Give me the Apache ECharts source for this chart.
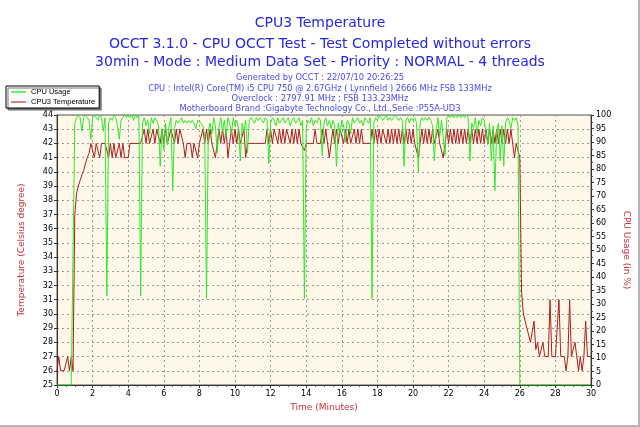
<!DOCTYPE html>
<html><head><meta charset="utf-8">
<script src="https://cdn.jsdelivr.net/npm/echarts@6/dist/echarts.min.js"></script>
<style>html,body{margin:0;padding:0;background:#fff}#c{width:640px;height:427px}</style>
</head><body><div id="c"></div>
<script>
// Sampling step of the log: one reading every 0.1 minute, from 0 to 30 minutes
const sampleStepMin = 0.1;

const titleLines = [
  'CPU3 Temperature',
  'OCCT 3.1.0 - CPU OCCT Test - Test Completed without errors',
  '30min - Mode : Medium Data Set - Priority : NORMAL - 4 threads'
];
const infoLines = [
  'Generated by OCCT : 22/07/10 20:26:25',
  'CPU : Intel(R) Core(TM) i5 CPU 750 @ 2.67GHz ( Lynnfield ) 2666 MHz FSB 133MHz',
  'Overclock : 2797.91 MHz ; FSB 133.23MHz',
  'Motherboard Brand :Gigabyte Technology Co., Ltd.,Serie :P55A-UD3'
];

// CPU usage (%) per sample
const cpuUsage = [
  0,0,0,0,0,0,0,0,0,0,
  97,99,100,99,94,99,100,99,98,91,
  99,100,99,98,100,99,94,99,33,97,
  99,98,100,99,96,91,98,99,100,99,
  100,99,100,98,100,99,100,33,97,99,
  96,98,93,99,97,99,98,96,81,95,
  87,97,89,96,99,72,95,98,97,98,
  99,97,98,97,98,97,98,97,95,98,
  98,97,96,92,32,94,97,93,99,96,
  86,96,99,94,98,92,99,97,93,99,
  96,98,95,83,97,94,98,86,98,99,
  98,97,99,98,99,98,97,99,98,82,
  97,99,98,96,99,97,98,99,97,98,
  99,96,98,99,97,98,99,96,98,32,
  95,98,97,99,96,98,97,99,98,85,
  97,99,96,98,95,98,96,81,97,93,
  98,96,90,98,97,93,99,97,98,99,
  97,98,96,99,98,97,99,32,97,99,
  98,100,99,98,99,100,98,99,98,99,
  100,99,98,99,98,81,98,99,97,99,
  98,99,97,79,97,99,98,99,98,99,
  98,96,83,94,99,92,98,98,85,99,
  100,99,100,99,100,99,100,99,100,99,
  100,99,83,97,95,99,93,98,96,99,
  98,94,89,97,83,96,72,94,97,83,
  96,81,97,99,98,95,99,98,99,96,
  0,0,0,0,0,0,0,0,0,0,
  0,0,0,0,0,0,0,0,0,0,
  0,0,0,0,0,0,0,0,0,0,
  0,0,0,0,0,0,0,0,0,0,
  0
];

// CPU3 temperature (Celsius) per sample
const cpuTemp = [
  26,27,26,26,26,26,27,26,27,26,
  37,38.5,39,39.4,39.8,40.1,40.6,41,41.3,42,
  42,41,42,42,41,42,42,42,42,41,
  42,41,42,41,41,42,41,42,41,41,
  41,42,42,42,42,42,42,42,42,43,
  42,43,42,42,43,42,43,43,42,43,
  42,43,42,42,43,43,42,43,42,43,
  43,42,41,42,42,42,41,42,42,41,
  42,42,43,42,43,42,43,42,42,41,
  42,43,42,43,42,43,41,42,43,42,
  43,42,43,42,42,43,41,42,42,42,
  42,42,42,42,42,42,42,42,43,42,
  43,42,43,43,42,43,42,43,42,43,
  43,42,43,42,43,42,43,42,42,41.5,
  42,42,42,42,42,43,42,42,42,43,
  42,43,42,41,42,43,42,43,42,43,
  43,42,43,42,43,42,42,43,42,43,
  42,43,42,42,42,42,42,43,42,43,
  42,43,42,43,43,42,43,42,43,42,
  43,42,43,42,43,42,43,42,43,42,
  43,42,42,41,42,43,42,43,42,43,
  42,43,42,42,43,42,42,41,42,43,
  42,43,42,43,42,43,42,43,42,43,
  42,43,42,43,42,43,42,43,42,43,
  42,43,42,43,42,43,42,43,42,43,
  42,43,42,43,42,43,42,41,42,42,
  41,31.5,30,29.5,29,29,28,28,29.5,27.5,
  28,27,27.5,28,27,27,27,31,27,27,
  27,27,31,27,27,27,26,27,31,27,
  27,28,27,26,27,26,27,29.5,27,27,
  27
];

const timeTicks = {min: 0, max: 30, interval: 2};
const tempTicks = {min: 25, max: 44, interval: 1};
const usageTicks = {min: 0, max: 100, interval: 5};

const toPairs = arr => arr.map((v, i) => [+(i * sampleStepMin).toFixed(1), v]);

const FONT = 'DejaVu Sans';
const titles = [];
const bigTops = [11, 32, 50];
titleLines.forEach((t, k) => titles.push({
  text: t, left: 'center', top: bigTops[k],
  textStyle: {fontFamily: FONT, fontSize: 14, fontWeight: 'normal', color: '#2727e2'}
}));
const smallTops = [69, 80, 90, 100];
infoLines.forEach((t, k) => titles.push({
  text: t, left: 'center', top: smallTops[k],
  textStyle: {fontFamily: FONT, fontSize: 8.3, fontWeight: 'normal', color: '#4a4aee'}
}));

const dash = {type: [2, 3], color: '#9a9a9a', width: 1};
const axisLbl = {fontFamily: FONT, fontSize: 8, color: '#000'};
const nameStyle = {fontFamily: FONT, fontSize: 9, color: '#c8323c'};

const chart = echarts.init(document.getElementById('c'), null, {renderer: 'canvas'});
chart.setOption({
  animation: false,
  backgroundColor: '#fff',
  title: titles,
  legend: {
    orient: 'vertical', left: 6, top: 86, itemGap: 2, padding: [2, 4, 2, 5],
    icon: 'rect', itemWidth: 15, itemHeight: 1.5,
    backgroundColor: '#fff', borderColor: '#000', borderWidth: 1,
    shadowColor: '#777', shadowOffsetX: 2, shadowOffsetY: 2, shadowBlur: 0,
    textStyle: {fontFamily: 'Liberation Sans', fontSize: 7.5, color: '#000'},
    data: ['CPU Usage', 'CPU3 Temperature']
  },
  grid: {left: 57, right: 49, top: 115, bottom: 42, show: true,
    backgroundColor: '#fff8e8', borderColor: '#555', borderWidth: 1},
  xAxis: {
    type: 'value', min: timeTicks.min, max: timeTicks.max, interval: timeTicks.interval,
    name: 'Time (Minutes)', nameLocation: 'middle', nameGap: 15, nameTextStyle: nameStyle,
    axisLine: {show: true, lineStyle: {color: '#333'}},
    axisTick: {show: true, length: 3, lineStyle: {color: '#333'}},
    minorTick: {show: true, splitNumber: 4, length: 2, lineStyle: {color: '#555'}},
    splitLine: {show: true, lineStyle: dash},
    axisLabel: Object.assign({margin: 5}, axisLbl)
  },
  yAxis: [{
    type: 'value', position: 'left', min: tempTicks.min, max: tempTicks.max, interval: tempTicks.interval,
    name: 'Temperature (Celsius degree)', nameLocation: 'middle', nameGap: 31, nameTextStyle: nameStyle,
    axisLine: {show: true, lineStyle: {color: '#333'}},
    axisTick: {show: true, length: 3, lineStyle: {color: '#333'}},
    splitLine: {show: true, lineStyle: dash},
    axisLabel: Object.assign({margin: 4}, axisLbl)
  }, {
    type: 'value', position: 'right', min: usageTicks.min, max: usageTicks.max, interval: usageTicks.interval,
    name: 'CPU Usage (in %)', nameLocation: 'middle', nameRotate: -90, nameGap: 15, nameTextStyle: nameStyle,
    axisLine: {show: true, lineStyle: {color: '#333'}},
    axisTick: {show: true, length: 3, lineStyle: {color: '#333'}},
    minorTick: {show: true, splitNumber: 2, length: 2, lineStyle: {color: '#555'}},
    splitLine: {show: false},
    axisLabel: Object.assign({margin: 5}, axisLbl)
  }],
  graphic: [
    {type: 'line', shape: {x1: 639, y1: 0, x2: 639, y2: 427}, style: {stroke: '#b4b4b4', lineWidth: 2}},
    {type: 'line', shape: {x1: 0, y1: 426, x2: 640, y2: 426}, style: {stroke: '#b4b4b4', lineWidth: 2}}
  ],
  series: [{
    name: 'CPU3 Temperature', type: 'line', yAxisIndex: 0, data: toPairs(cpuTemp),
    symbol: 'none', lineStyle: {width: 1, color: '#a82020'}, itemStyle: {color: '#c85a5a'}
  }, {
    name: 'CPU Usage', type: 'line', yAxisIndex: 1, data: toPairs(cpuUsage),
    symbol: 'none', lineStyle: {width: 1, color: '#2ee82e'}, itemStyle: {color: '#33ee33'}
  }]
});
</script></body></html>
